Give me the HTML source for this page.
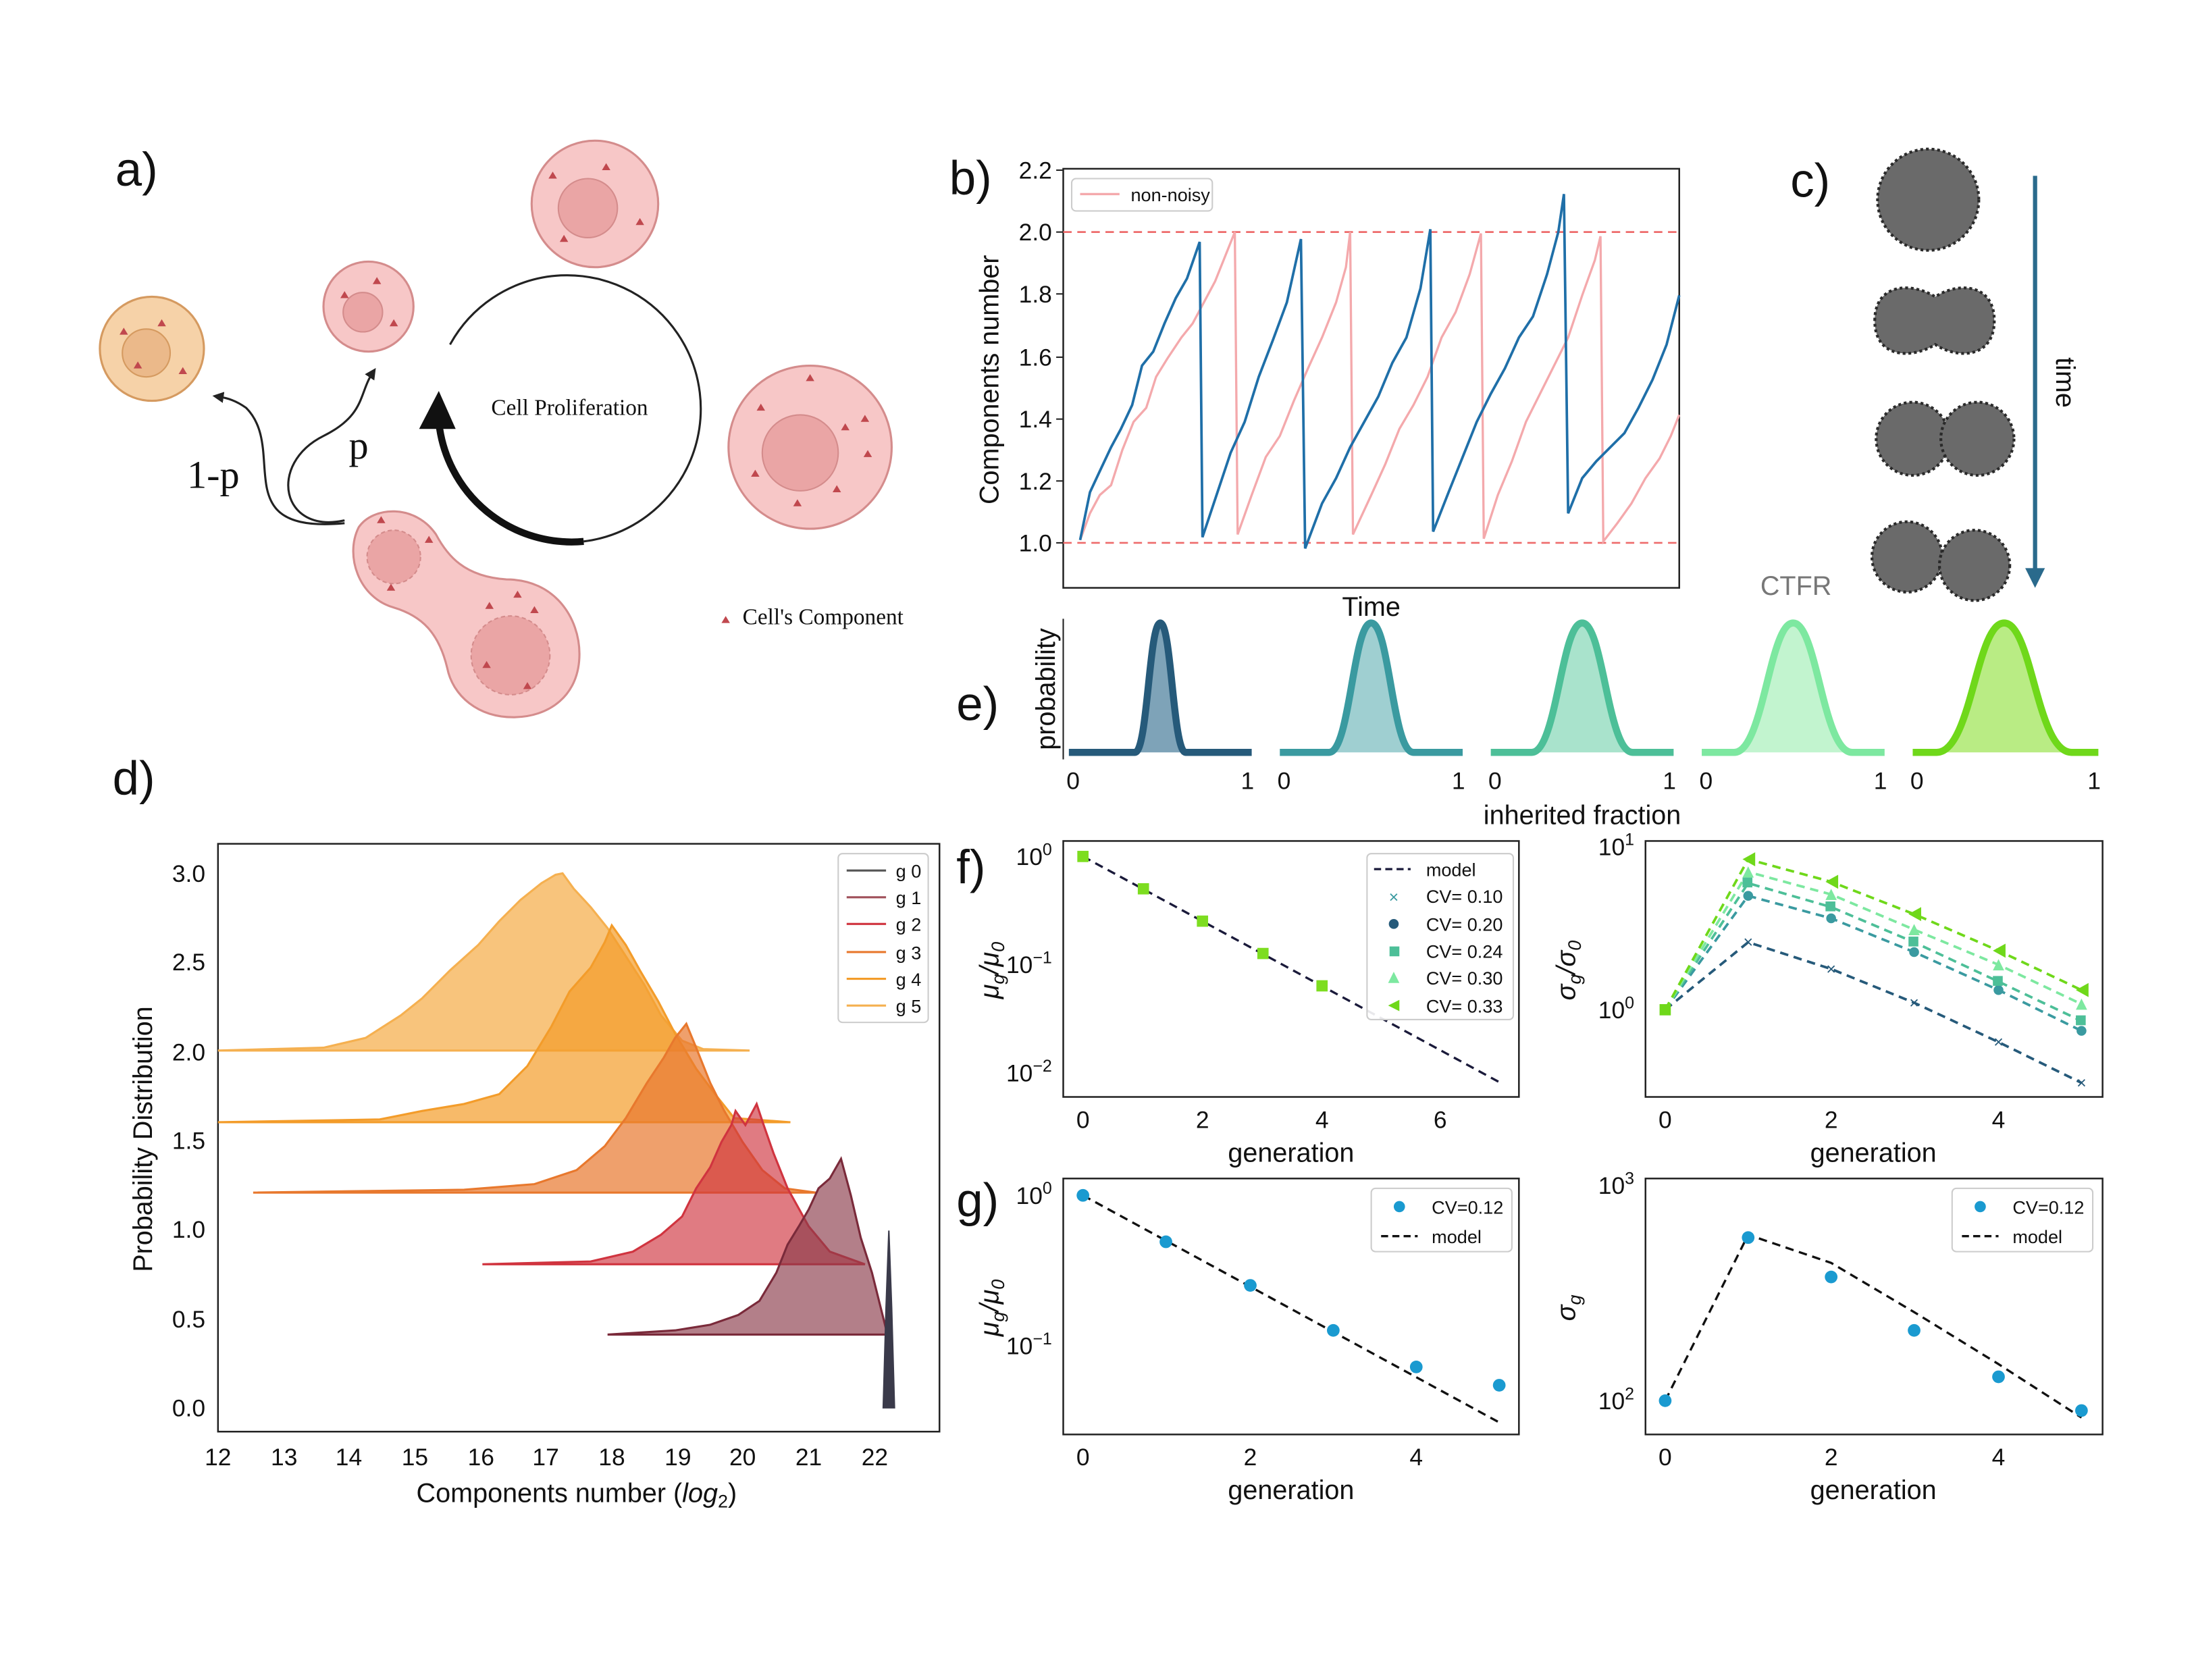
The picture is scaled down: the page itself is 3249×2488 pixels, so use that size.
<!DOCTYPE html>
<html><head><meta charset="utf-8"><style>
html,body{margin:0;padding:0;background:#fff;}
svg{display:block;}
text{font-family:"Liberation Sans",sans-serif;fill:#111;}
.serif{font-family:"Liberation Serif",serif;}
.t{font-size:17px;}
.al{font-size:19px;}
.pl{font-size:34px;}
</style></head><body>
<svg width="3249" height="2488" viewBox="0 0 1560 1194.6" preserveAspectRatio="none" xmlns="http://www.w3.org/2000/svg">
<rect width="1560" height="1195" fill="#fff"/>
<defs>
<marker id="ah" markerWidth="8" markerHeight="8" refX="4" refY="4" orient="auto" markerUnits="userSpaceOnUse"><path d="M0,0 L8,4 L0,8 z" fill="#222"/></marker>
</defs>

<!-- Panel a -->
<text x="82" y="132" class="pl">a)</text>
<circle cx="108" cy="248" r="37" fill="#f6d2a8" stroke="#d59a60" stroke-width="1.5"/>
<circle cx="104" cy="251" r="17" fill="#ebb98a" stroke="#d59a60"/>
<circle cx="262" cy="218" r="32" fill="#f7c7c7" stroke="#d48c8c" stroke-width="1.5"/>
<circle cx="258" cy="222" r="14" fill="#eaa5a5" stroke="#d48c8c"/>
<circle cx="423" cy="145" r="45" fill="#f7c7c7" stroke="#d48c8c" stroke-width="1.5"/>
<circle cx="418" cy="148" r="21" fill="#eaa5a5" stroke="#d48c8c"/>
<circle cx="576" cy="318" r="58" fill="#f7c7c7" stroke="#d48c8c" stroke-width="1.5"/>
<circle cx="569" cy="322" r="27" fill="#eaa5a5" stroke="#d48c8c"/>
<path d="M255,375 C265,360 295,358 310,380 C318,395 330,410 360,412 C395,412 412,440 412,465 C412,495 390,510 365,510 C340,510 322,495 318,475 C312,450 300,438 280,432 C255,425 245,395 255,375 z" fill="#f7c7c7" stroke="#d48c8c" stroke-width="1.5"/>
<circle cx="280" cy="396" r="19" fill="#eaa5a5" stroke="#d48c8c" stroke-dasharray="3,2"/>
<circle cx="363" cy="466" r="28" fill="#eaa5a5" stroke="#d48c8c" stroke-dasharray="3,2"/>
<g fill="#c0484e">
<path d="M85,238 l3,-5 l3,5z"/><path d="M112,232 l3,-5 l3,5z"/><path d="M127,266 l3,-5 l3,5z"/><path d="M95,262 l3,-5 l3,5z"/>
<path d="M265,202 l3,-5 l3,5z"/><path d="M242,212 l3,-5 l3,5z"/><path d="M277,232 l3,-5 l3,5z"/>
<path d="M390,127 l3,-5 l3,5z"/><path d="M428,121 l3,-5 l3,5z"/><path d="M452,160 l3,-5 l3,5z"/><path d="M398,172 l3,-5 l3,5z"/>
<path d="M573,271 l3,-5 l3,5z"/><path d="M538,292 l3,-5 l3,5z"/><path d="M598,306 l3,-5 l3,5z"/><path d="M612,300 l3,-5 l3,5z"/><path d="M614,325 l3,-5 l3,5z"/><path d="M592,350 l3,-5 l3,5z"/><path d="M564,360 l3,-5 l3,5z"/><path d="M534,339 l3,-5 l3,5z"/>
<path d="M268,372 l3,-5 l3,5z"/><path d="M302,386 l3,-5 l3,5z"/><path d="M275,420 l3,-5 l3,5z"/><path d="M345,433 l3,-5 l3,5z"/><path d="M365,425 l3,-5 l3,5z"/><path d="M377,436 l3,-5 l3,5z"/><path d="M343,475 l3,-5 l3,5z"/><path d="M372,490 l3,-5 l3,5z"/>
<path d="M513,443 l3,-5 l3,5z"/>
</g>
<path d="M320,245 A95,95 0 1 1 415,385" fill="none" stroke="#222" stroke-width="1.5"/>
<path d="M415,385 A95,95 0 0 1 312,300" fill="none" stroke="#111" stroke-width="5"/>
<path d="M298,305 L312,278 L324,305 z" fill="#111"/>
<text x="405" y="295" class="serif" font-size="16" text-anchor="middle">Cell Proliferation</text>
<path d="M245,370 C200,380 190,330 230,310 C260,295 255,280 265,265" fill="none" stroke="#222" stroke-width="1.5" marker-end="url(#ah)"/>
<path d="M245,372 C160,380 205,320 175,290 C168,285 162,283 155,282" fill="none" stroke="#222" stroke-width="1.5" marker-end="url(#ah)"/>
<text x="248" y="326" class="serif" font-size="28">p</text>
<text x="133" y="347" class="serif" font-size="28">1-p</text>
<text x="528" y="444" class="serif" font-size="16">Cell's Component</text>

<!-- Panel b -->
<text x="675" y="138" class="pl">b)</text>
<rect x="756" y="120" width="438" height="298" fill="none" stroke="#222" stroke-width="1.2"/>
<g class="t" text-anchor="end">
<text x="748" y="392">1.0</text><text x="748" y="348">1.2</text><text x="748" y="304">1.4</text><text x="748" y="260">1.6</text><text x="748" y="215">1.8</text><text x="748" y="171">2.0</text><text x="748" y="127">2.2</text>
</g>
<g stroke="#222"><line x1="751" y1="386" x2="756" y2="386"/><line x1="751" y1="342" x2="756" y2="342"/><line x1="751" y1="298" x2="756" y2="298"/><line x1="751" y1="254" x2="756" y2="254"/><line x1="751" y1="209" x2="756" y2="209"/><line x1="751" y1="165" x2="756" y2="165"/><line x1="751" y1="121" x2="756" y2="121"/></g>
<text transform="translate(710,270) rotate(-90)" class="al" text-anchor="middle">Components number</text>
<text x="975" y="438" class="al" text-anchor="middle">Time</text>
<line x1="756" y1="165" x2="1194" y2="165" stroke="#ee6b6b" stroke-dasharray="6,4" stroke-width="1.3"/>
<line x1="756" y1="386" x2="1194" y2="386" stroke="#ee6b6b" stroke-dasharray="6,4" stroke-width="1.3"/>
<polyline fill="none" stroke="#f4a9ac" stroke-width="1.6" points="768,384 775,365 782,352 790,345 798,320 806,300 815,290 822,268 830,255 840,240 848,230 856,215 864,200 872,180 878,165 880,380 890,352 900,325 910,310 920,285 930,262 940,240 950,215 957,190 960,165 962,380 975,352 985,330 995,305 1005,288 1015,268 1025,240 1035,222 1045,195 1053,166 1055,383 1065,352 1075,328 1085,300 1095,280 1105,260 1115,240 1125,210 1134,185 1138,168 1140,385 1150,372 1160,358 1170,340 1180,326 1188,310 1194,295"/>
<polyline fill="none" stroke="#1f6fa8" stroke-width="1.8" points="768,384 775,350 782,335 790,318 797,305 805,288 812,260 820,250 828,230 836,212 844,198 853,172 855,382 865,352 875,322 885,300 895,268 905,242 915,215 925,170 928,390 940,358 950,340 960,318 970,300 980,282 990,258 1000,240 1010,205 1017,163 1019,378 1030,350 1040,325 1050,300 1060,280 1070,262 1080,240 1090,225 1100,195 1108,165 1112,138 1115,365 1125,340 1135,328 1145,318 1155,308 1165,290 1175,270 1185,245 1194,210"/>
<rect x="762" y="127" width="100" height="23" fill="#fff" stroke="#ccc" rx="3"/>
<line x1="768" y1="138" x2="796" y2="138" stroke="#f4a9ac" stroke-width="1.6"/>
<text x="804" y="143" font-size="13">non-noisy</text>

<!-- Panel c -->
<text x="1273" y="140" class="pl">c)</text>
<g fill="#6a6a6a" stroke="#2a2a2a" stroke-width="2" stroke-dasharray="2,2">
<circle cx="1371" cy="142" r="36"/>
<path d="M1333,228 C1333,202 1358,200 1376,211 C1393,200 1418,202 1418,228 C1418,254 1393,256 1376,245 C1358,256 1333,254 1333,228 z"/>
<circle cx="1360" cy="312" r="26"/><circle cx="1406" cy="312" r="26"/>
<circle cx="1356" cy="396" r="25"/><circle cx="1404" cy="402" r="25"/>
</g>
<line x1="1447" y1="125" x2="1447" y2="405" stroke="#2a6a8c" stroke-width="3"/>
<path d="M1440,404 L1454,404 L1447,418 z" fill="#2a6a8c"/>
<text transform="translate(1462,272) rotate(90)" class="al" text-anchor="middle">time</text>
<text x="1277" y="423" class="al" style="fill:#777" text-anchor="middle">CTFR</text>

<!-- Panel e -->
<text x="680" y="512" class="pl">e)</text>
<text transform="translate(750,490) rotate(-90)" class="al" text-anchor="middle">probability</text>
<g stroke="#222" stroke-width="1"><line x1="756" y1="440" x2="756" y2="540"/></g>
<g fill="none" stroke-width="5">
<path d="M760,535 L807,535 C816,535 817,443 825,443 C833,443 834,535 843,535 L890,535" stroke="#265a7a" fill="#7ea3b8"/>
<path d="M910,535 L945,535 C960,535 962,443 975,443 C988,443 990,535 1005,535 L1040,535" stroke="#3a9aa0" fill="#9fcfd1"/>
<path d="M1060,535 L1089,535 C1107,535 1110,443 1125,443 C1140,443 1143,535 1161,535 L1190,535" stroke="#4dbf98" fill="#a9e3cc"/>
<path d="M1210,535 L1233,535 C1254,535 1258,443 1275,443 C1292,443 1296,535 1317,535 L1340,535" stroke="#7de8a0" fill="#c2f4cf"/>
<path d="M1360,535 L1377,535 C1402,535 1405,443 1425,443 C1445,443 1448,535 1473,535 L1492,535" stroke="#6fd81a" fill="#b9ec84"/>
</g>
<g class="t" text-anchor="middle">
<text x="763" y="561">0</text><text x="887" y="561">1</text><text x="913" y="561">0</text><text x="1037" y="561">1</text><text x="1063" y="561">0</text><text x="1187" y="561">1</text><text x="1213" y="561">0</text><text x="1337" y="561">1</text><text x="1363" y="561">0</text><text x="1489" y="561">1</text>
</g>
<text x="1125" y="586" class="al" text-anchor="middle">inherited fraction</text>

<!-- Panel d -->
<text x="80" y="565" class="pl">d)</text>
<rect x="155" y="600" width="513" height="418" fill="none" stroke="#222" stroke-width="1.2"/>
<g class="t" text-anchor="end">
<text x="146" y="1007">0.0</text><text x="146" y="944">0.5</text><text x="146" y="880">1.0</text><text x="146" y="817">1.5</text><text x="146" y="754">2.0</text><text x="146" y="690">2.5</text><text x="146" y="627">3.0</text>
</g>
<g class="t" text-anchor="middle">
<text x="155" y="1042">12</text><text x="202" y="1042">13</text><text x="248" y="1042">14</text><text x="295" y="1042">15</text><text x="342" y="1042">16</text><text x="388" y="1042">17</text><text x="435" y="1042">18</text><text x="482" y="1042">19</text><text x="528" y="1042">20</text><text x="575" y="1042">21</text><text x="622" y="1042">22</text>
</g>
<text transform="translate(108,810) rotate(-90)" class="al" text-anchor="middle">Probability Distribution</text>
<text x="410" y="1068" class="al" text-anchor="middle">Components number (<tspan font-style="italic">log</tspan><tspan font-size="13" dy="4">2</tspan><tspan dy="-4">)</tspan></text>
<path d="M155,747 L230,745 L260,738 L285,722 L300,710 L320,690 L340,672 L355,655 L370,640 L385,628 L395,622 L400,621 L408,632 L420,645 L432,660 L445,680 L458,700 L470,722 L485,740 L500,746 L533,747 Z" fill="#f5b050" fill-opacity="0.75" stroke="#f5b050" stroke-width="1.5"/>
<path d="M155,798 L270,796 L300,790 L330,785 L355,778 L375,758 L392,730 L405,705 L420,688 L430,670 L435,658 L445,672 L455,690 L468,712 L480,735 L495,760 L510,780 L522,795 L562,798 Z" fill="#f39c2a" fill-opacity="0.7" stroke="#f39c2a" stroke-width="1.5"/>
<path d="M180,848 L330,846 L380,842 L410,832 L430,815 L445,795 L460,770 L472,752 L480,738 L488,728 L495,745 L505,770 L515,790 L528,812 L542,832 L558,845 L580,848 Z" fill="#e8782d" fill-opacity="0.7" stroke="#e8782d" stroke-width="1.5"/>
<path d="M343,899 L420,897 L450,890 L470,878 L485,865 L495,845 L505,830 L513,812 L520,800 L523,790 L530,800 L538,785 L543,800 L550,820 L560,845 L575,872 L590,890 L615,899 Z" fill="#d0343f" fill-opacity="0.65" stroke="#d0343f" stroke-width="1.5"/>
<path d="M432,949 L480,946 L505,942 L525,935 L540,925 L552,905 L560,885 L568,872 L575,860 L582,845 L590,838 L598,824 L605,850 L612,880 L620,905 L625,925 L630,945 L632,949 Z" fill="#8b3a4a" fill-opacity="0.65" stroke="#7a2a3a" stroke-width="1.5"/>
<path d="M628,1001 L630,930 L632,875 L634,930 L636,1001 Z" fill="#3a3a4a" stroke="#3a3a4a"/>
<rect x="596" y="607" width="64" height="120" fill="#fff" fill-opacity="0.85" stroke="#ccc" rx="3"/>
<g stroke-width="1.5">
<line x1="602" y1="619" x2="630" y2="619" stroke="#555"/><line x1="602" y1="638" x2="630" y2="638" stroke="#a0505a"/><line x1="602" y1="657" x2="630" y2="657" stroke="#d0343f"/><line x1="602" y1="677" x2="630" y2="677" stroke="#e8782d"/><line x1="602" y1="696" x2="630" y2="696" stroke="#f39c2a"/><line x1="602" y1="715" x2="630" y2="715" stroke="#f5b050"/>
</g>
<g font-size="13"><text x="637" y="624">g 0</text><text x="637" y="643">g 1</text><text x="637" y="662">g 2</text><text x="637" y="682">g 3</text><text x="637" y="701">g 4</text><text x="637" y="720">g 5</text></g>

<!-- Panel f left -->
<text x="680" y="628" class="pl">f)</text>
<rect x="756" y="598" width="324" height="182" fill="none" stroke="#222" stroke-width="1.2"/>
<g class="t" text-anchor="end"><text x="748" y="615">10<tspan font-size="12" dy="-7">0</tspan></text><text x="748" y="692">10<tspan font-size="12" dy="-7">−1</tspan></text><text x="748" y="769">10<tspan font-size="12" dy="-7">−2</tspan></text></g>
<g class="t" text-anchor="middle"><text x="770" y="802">0</text><text x="855" y="802">2</text><text x="940" y="802">4</text><text x="1024" y="802">6</text></g>
<text transform="translate(710,690) rotate(-90)" class="al" text-anchor="middle" font-style="italic">μ<tspan font-size="13" dy="4">g</tspan><tspan dy="-4">/μ</tspan><tspan font-size="13" dy="4">0</tspan></text>
<text x="918" y="826" class="al" text-anchor="middle">generation</text>
<line x1="770" y1="609" x2="1067" y2="770" stroke="#1a1a3a" stroke-width="1.6" stroke-dasharray="6,4"/>
<g fill="#7ddd20"><rect x="766" y="605" width="8" height="8"/><rect x="809" y="628" width="8" height="8"/><rect x="851" y="651" width="8" height="8"/><rect x="894" y="674" width="8" height="8"/><rect x="936" y="697" width="8" height="8"/></g>
<rect x="972" y="607" width="104" height="118" fill="#fff" fill-opacity="0.9" stroke="#ccc" rx="3"/>
<line x1="977" y1="618" x2="1003" y2="618" stroke="#1a1a3a" stroke-width="1.6" stroke-dasharray="5,3"/>
<text x="991" y="642" font-size="12" style="fill:#3a9aa0" text-anchor="middle">×</text>
<circle cx="991" cy="657" r="3.5" fill="#265a7a"/>
<rect x="988" y="673" width="7" height="7" fill="#4dbf98"/>
<path d="M987,699 L991,691 L995,699z" fill="#7de8a0"/>
<path d="M995,711 L987,715 L995,719z" fill="#6fd81a"/>
<g font-size="13"><text x="1014" y="623">model</text><text x="1014" y="642">CV= 0.10</text><text x="1014" y="662">CV= 0.20</text><text x="1014" y="681">CV= 0.24</text><text x="1014" y="700">CV= 0.30</text><text x="1014" y="720">CV= 0.33</text></g>

<!-- Panel f right -->
<rect x="1170" y="598" width="325" height="182" fill="none" stroke="#222" stroke-width="1.2"/>
<g class="t" text-anchor="end"><text x="1162" y="608">10<tspan font-size="12" dy="-7">1</tspan></text><text x="1162" y="724">10<tspan font-size="12" dy="-7">0</tspan></text></g>
<g class="t" text-anchor="middle"><text x="1184" y="802">0</text><text x="1302" y="802">2</text><text x="1421" y="802">4</text></g>
<text transform="translate(1120,690) rotate(-90)" class="al" text-anchor="middle" font-style="italic">σ<tspan font-size="13" dy="4">g</tspan><tspan dy="-4">/σ</tspan><tspan font-size="13" dy="4">0</tspan></text>
<text x="1332" y="826" class="al" text-anchor="middle">generation</text>
<g fill="none" stroke-width="1.8" stroke-dasharray="6,4">
<polyline stroke="#265a7a" points="1184,718 1243,670 1302,689 1361,713 1421,741 1480,770"/>
<polyline stroke="#3a9aa0" points="1184,718 1243,637 1302,653 1361,677 1421,704 1480,733"/>
<polyline stroke="#4dbf98" points="1184,718 1243,628 1302,645 1361,670 1421,698 1480,726"/>
<polyline stroke="#7de8a0" points="1184,718 1243,620 1302,636 1361,661 1421,686 1480,714"/>
<polyline stroke="#6fd81a" points="1184,718 1243,611 1302,627 1361,650 1421,676 1480,704"/>
</g>
<g font-size="12" style="fill:#265a7a" text-anchor="middle"><text x="1243" y="674" style="fill:#265a7a">×</text><text x="1302" y="693" style="fill:#265a7a">×</text><text x="1361" y="717" style="fill:#265a7a">×</text><text x="1421" y="745" style="fill:#265a7a">×</text><text x="1480" y="774" style="fill:#265a7a">×</text></g>
<g fill="#7de8a0"><path d="M1239,624 L1243,616 L1247,624z"/><path d="M1298,640 L1302,632 L1306,640z"/><path d="M1357,665 L1361,657 L1365,665z"/><path d="M1417,690 L1421,682 L1425,690z"/><path d="M1476,718 L1480,710 L1484,718z"/></g>
<g fill="#3a9aa0"><circle cx="1243" cy="637" r="3.5"/><circle cx="1302" cy="653" r="3.5"/><circle cx="1361" cy="677" r="3.5"/><circle cx="1421" cy="704" r="3.5"/><circle cx="1480" cy="733" r="3.5"/></g>
<g fill="#4dbf98"><rect x="1239" y="624" width="7" height="7"/><rect x="1298" y="641" width="7" height="7"/><rect x="1357" y="666" width="7" height="7"/><rect x="1417" y="694" width="7" height="7"/><rect x="1476" y="722" width="7" height="7"/></g>
<g fill="#6fd81a"><rect x="1180" y="714" width="8" height="8"/><path d="M1248,606 L1239,611 L1248,616z"/><path d="M1307,622 L1298,627 L1307,632z"/><path d="M1366,645 L1357,650 L1366,655z"/><path d="M1426,671 L1417,676 L1426,681z"/><path d="M1485,699 L1476,704 L1485,709z"/></g>

<!-- Panel g left -->
<text x="680" y="865" class="pl">g)</text>
<rect x="756" y="838" width="324" height="182" fill="none" stroke="#222" stroke-width="1.2"/>
<g class="t" text-anchor="end"><text x="748" y="856">10<tspan font-size="12" dy="-7">0</tspan></text><text x="748" y="963">10<tspan font-size="12" dy="-7">−1</tspan></text></g>
<g class="t" text-anchor="middle"><text x="770" y="1042">0</text><text x="889" y="1042">2</text><text x="1007" y="1042">4</text></g>
<text transform="translate(710,930) rotate(-90)" class="al" text-anchor="middle" font-style="italic">μ<tspan font-size="13" dy="4">g</tspan><tspan dy="-4">/μ</tspan><tspan font-size="13" dy="4">0</tspan></text>
<text x="918" y="1066" class="al" text-anchor="middle">generation</text>
<line x1="770" y1="850" x2="1067" y2="1012" stroke="#111" stroke-width="1.6" stroke-dasharray="6,4"/>
<g fill="#1a9ad0"><circle cx="770" cy="850" r="4.5"/><circle cx="829" cy="883" r="4.5"/><circle cx="889" cy="914" r="4.5"/><circle cx="948" cy="946" r="4.5"/><circle cx="1007" cy="972" r="4.5"/><circle cx="1066" cy="985" r="4.5"/></g>
<rect x="975" y="845" width="100" height="45" fill="#fff" stroke="#ccc" rx="3"/>
<circle cx="995" cy="858" r="4" fill="#1a9ad0"/>
<line x1="982" y1="879" x2="1008" y2="879" stroke="#111" stroke-width="1.6" stroke-dasharray="5,3"/>
<g font-size="13"><text x="1018" y="863">CV=0.12</text><text x="1018" y="884">model</text></g>

<!-- Panel g right -->
<rect x="1170" y="838" width="325" height="182" fill="none" stroke="#222" stroke-width="1.2"/>
<g class="t" text-anchor="end"><text x="1162" y="849">10<tspan font-size="12" dy="-7">3</tspan></text><text x="1162" y="1002">10<tspan font-size="12" dy="-7">2</tspan></text></g>
<g class="t" text-anchor="middle"><text x="1184" y="1042">0</text><text x="1302" y="1042">2</text><text x="1421" y="1042">4</text></g>
<text transform="translate(1120,930) rotate(-90)" class="al" text-anchor="middle" font-style="italic">σ<tspan font-size="13" dy="4">g</tspan></text>
<text x="1332" y="1066" class="al" text-anchor="middle">generation</text>
<polyline fill="none" stroke="#111" stroke-width="1.6" stroke-dasharray="6,4" points="1184,996 1243,878 1302,898 1361,933 1421,970 1480,1008"/>
<g fill="#1a9ad0"><circle cx="1184" cy="996" r="4.5"/><circle cx="1243" cy="880" r="4.5"/><circle cx="1302" cy="908" r="4.5"/><circle cx="1361" cy="946" r="4.5"/><circle cx="1421" cy="979" r="4.5"/><circle cx="1480" cy="1003" r="4.5"/></g>
<rect x="1388" y="845" width="100" height="45" fill="#fff" stroke="#ccc" rx="3"/>
<circle cx="1408" cy="858" r="4" fill="#1a9ad0"/>
<line x1="1395" y1="879" x2="1421" y2="879" stroke="#111" stroke-width="1.6" stroke-dasharray="5,3"/>
<g font-size="13"><text x="1431" y="863">CV=0.12</text><text x="1431" y="884">model</text></g>
</svg>
</body></html>
